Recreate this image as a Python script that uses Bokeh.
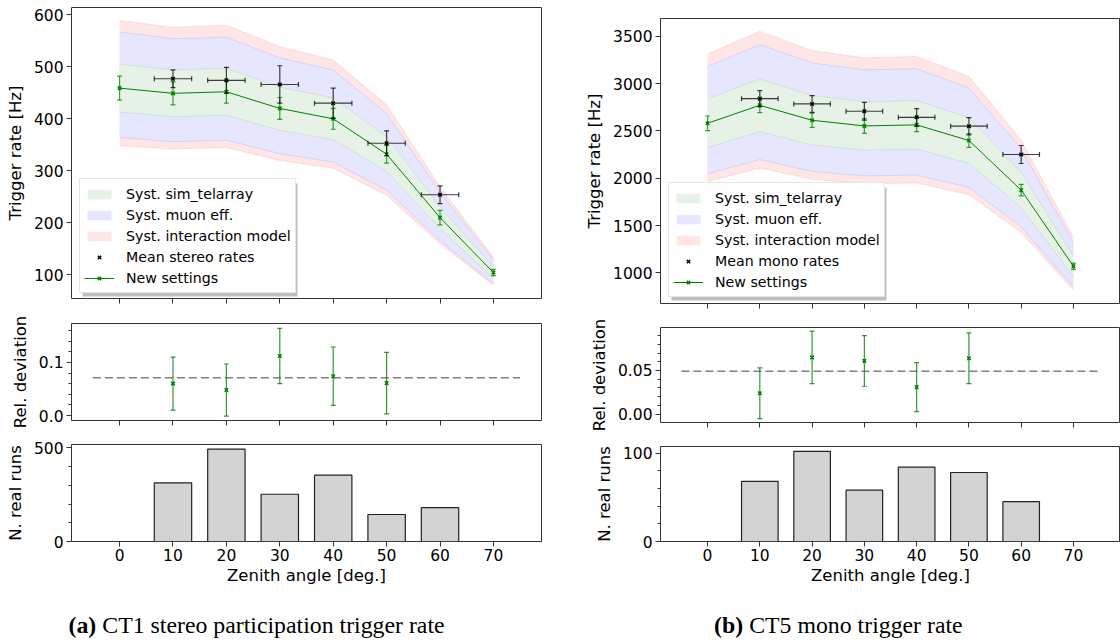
from bokeh.plotting import figure
from bokeh.models import (Range1d, FixedTicker, PrintfTickFormatter, Whisker, TeeHead,
                          ColumnDataSource, Legend, LegendItem, Label, BoxAnnotation,
                          CustomLabelingPolicy)
from bokeh.layouts import row, column
from bokeh.embed import file_html
from bokeh.resources import INLINE

# ---------------- data ----------------
zenith = [0, 10, 20, 30, 40, 50, 60, 70]
zenith_real = [10, 20, 30, 40, 50, 60]
zenith_ticks = [0, 10, 20, 30, 40, 50, 60, 70]
bin_half_width = 3.5
bin_width = 7
dev_line_x = [-5, 75]

# CT1 stereo participation
ct1_new_rate = [459, 449, 452, 420, 400, 332, 210, 104.5]
ct1_new_err = [23, 22, 22, 21, 20, 17, 14, 6]
ct1_mean_rate = [477, 474, 466, 430, 353, 254]
ct1_mean_err = [17, 25, 36, 29, 24, 17]
ct1_sim_hi = [505, 494, 497, 461, 440, 366, 231, 115]
ct1_sim_lo = [413, 404, 407, 378, 360, 299, 189, 94]
ct1_muon_hi = [567, 554, 557, 517, 494, 410, 259, 129]
ct1_muon_lo = [364, 356, 359, 333, 317, 263, 166, 83]
ct1_int_hi = [589, 576, 580, 539, 513, 427, 269, 134]
ct1_int_lo = [348, 342, 345, 320, 305, 253, 160, 80]
ct1_rel_dev = [0.060, 0.048, 0.112, 0.074, 0.061]
ct1_rel_err = [0.050, 0.049, 0.052, 0.055, 0.058]
ct1_rel_mean = 0.071
ct1_runs = [313, 493, 252, 354, 144, 181]
ct1_rate_ticks = [100, 200, 300, 400, 500, 600]
ct1_dev_ticks = [0.0, 0.1]
ct1_dev_minor = [0.02, 0.04, 0.06, 0.08, 0.12, 0.14, 0.16]
ct1_run_ticks = [0, 500]
ct1_run_minor = [100, 200, 300, 400]

# CT5 mono
ct5_new_rate = [2580, 2770, 2612, 2552, 2563, 2398, 1874, 1070]
ct5_new_err = [77, 77, 75, 78, 72, 72, 60, 33]
ct5_mean_rate = [2840, 2784, 2707, 2643, 2549, 2250]
ct5_mean_err = [84, 88, 94, 92, 91, 95]
ct5_sim_hi = [2838, 3047, 2873, 2807, 2819, 2638, 2061, 1177]
ct5_sim_lo = [2322, 2493, 2351, 2297, 2307, 2158, 1687, 963]
ct5_muon_hi = [3180, 3412, 3218, 3145, 3157, 2954, 2309, 1318]
ct5_muon_lo = [2046, 2197, 2071, 2024, 2033, 1902, 1486, 849]
ct5_int_hi = [3312, 3551, 3348, 3272, 3286, 3074, 2403, 1372]
ct5_int_lo = [1963, 2108, 1988, 1942, 1950, 1825, 1426, 814]
ct5_rel_dev = [0.024, 0.065, 0.061, 0.031, 0.064]
ct5_rel_err = [0.029, 0.030, 0.029, 0.028, 0.029]
ct5_rel_mean = 0.049
ct5_runs = [68, 102, 58, 84, 78, 45]
ct5_rate_ticks = [1000, 1500, 2000, 2500, 3000, 3500]
ct5_dev_ticks = [0.0, 0.05]
ct5_dev_minor = [0.01, 0.02, 0.03, 0.04, 0.06, 0.07, 0.08, 0.09]
ct5_run_ticks = [0, 100]
ct5_run_minor = [20, 40, 60, 80]

caption_a = ("(a)", "CT1 stereo participation trigger rate")
caption_b = ("(b)", "CT5 mono trigger rate")

# ---------------- style ----------------
FONT = "DejaVu Sans"
SERIF = "Liberation Serif"
TICK_SIZE = "15.5px"
LABEL_SIZE = "16.5px"
LEGEND_SIZE = "14.2px"
CAPTION_SIZE = "23.8px"
FRAME = "#333333"
XR = (-9, 79)

NO_LABELS = CustomLabelingPolicy(code="""
try { return new indices.constructor(indices.size, 0) } catch (e) { return indices }
""")


def make_fig(w, h, borders, yr):
    l, r, t, b = borders
    p = figure(width=w, height=h, x_range=Range1d(*XR), y_range=Range1d(*yr),
               output_backend="svg", toolbar_location=None,
               min_border_left=l, min_border_right=r,
               min_border_top=t, min_border_bottom=b)
    p.grid.visible = False
    p.outline_line_color = FRAME
    p.outline_line_width = 1
    p.outline_line_alpha = 1
    p.background_fill_color = "white"
    p.border_fill_color = "white"
    for ax in (p.xaxis[0], p.yaxis[0]):
        ax.axis_line_color = None
        ax.major_tick_out = 5
        ax.major_tick_in = 0
        ax.minor_tick_out = 3
        ax.minor_tick_in = 0
        ax.major_tick_line_color = FRAME
        ax.minor_tick_line_color = FRAME
        ax.major_label_text_font = FONT
        ax.major_label_text_font_size = TICK_SIZE
        ax.major_label_text_color = "black"
        ax.major_label_standoff = 3
        ax.axis_label_text_font = FONT
        ax.axis_label_text_font_size = LABEL_SIZE
        ax.axis_label_text_font_style = "normal"
        ax.axis_label_text_color = "black"
        ax.axis_label_standoff = 6
    p.xaxis.ticker = FixedTicker(ticks=zenith_ticks, minor_ticks=[])
    return p


def hide_x_labels(p):
    p.xaxis.major_label_text_font_size = "0px"
    p.xaxis.major_label_standoff = 0
    p.xaxis.major_label_policy = NO_LABELS


def err_whisker(xs, ys, es, color, alpha, dim="height"):
    if dim == "height":
        src = ColumnDataSource(dict(base=xs, upper=[y + e for y, e in zip(ys, es)],
                                    lower=[y - e for y, e in zip(ys, es)]))
    else:
        src = ColumnDataSource(dict(base=ys, upper=[x + e for x, e in zip(xs, es)],
                                    lower=[x - e for x, e in zip(xs, es)]))
    w = Whisker(source=src, base="base", upper="upper", lower="lower", dimension=dim,
                line_color=color, line_alpha=alpha, line_width=1.2, level="annotation",
                upper_head=TeeHead(size=5, line_color=color, line_alpha=alpha, line_width=1.2),
                lower_head=TeeHead(size=5, line_color=color, line_alpha=alpha, line_width=1.2))
    return w


def top_panel(w, h, borders, yr, ticks, new_rate, new_err, mean_rate, mean_err,
              sim_hi, sim_lo, muon_hi, muon_lo, int_hi, int_lo, mean_label, leg_loc):
    p = make_fig(w, h, borders, yr)
    p.yaxis.ticker = FixedTicker(ticks=ticks, minor_ticks=[])
    p.yaxis.axis_label = "Trigger rate [Hz]"
    hide_x_labels(p)
    r_int = p.varea(x=zenith, y1=int_lo, y2=int_hi, fill_color="#ffe6e6", fill_alpha=1)
    r_muon = p.varea(x=zenith, y1=muon_lo, y2=muon_hi, fill_color="#e6e6ff", fill_alpha=1)
    r_sim = p.varea(x=zenith, y1=sim_lo, y2=sim_hi, fill_color="#e6f2e6", fill_alpha=1)
    for arr, col in ((int_hi, "red"), (int_lo, "red"), (muon_hi, "blue"), (muon_lo, "blue"),
                     (sim_hi, "green"), (sim_lo, "green")):
        p.line(zenith, arr, line_color=col, line_alpha=0.1, line_width=1)
    r_line = p.line(zenith, new_rate, line_color="green", line_width=1)
    r_new = p.scatter(zenith, new_rate, marker="x", size=5, line_color="green", line_width=1.5)
    r_mean = p.scatter(zenith_real, mean_rate, marker="x", size=5, line_color="black", line_width=1.5)
    p.add_layout(err_whisker(zenith, new_rate, new_err, "green", 0.75))
    p.add_layout(err_whisker(zenith_real, mean_rate, mean_err, "black", 0.75))
    p.add_layout(err_whisker(zenith_real, mean_rate, [bin_half_width] * len(zenith_real),
                             "black", 0.75, dim="width"))
    lw, lh = 215, 113
    shadow = BoxAnnotation(left=leg_loc[0] + 3, right=leg_loc[0] + lw + 3,
                           bottom=leg_loc[1] - 3, top=leg_loc[1] + lh - 3,
                           left_units="screen", right_units="screen",
                           top_units="screen", bottom_units="screen",
                           fill_color="#888888", fill_alpha=0.55, line_color=None)
    p.add_layout(shadow)
    legend = Legend(items=[
        LegendItem(label="Syst. sim_telarray", renderers=[r_sim]),
        LegendItem(label="Syst. muon eff.", renderers=[r_muon]),
        LegendItem(label="Syst. interaction model", renderers=[r_int]),
        LegendItem(label=mean_label, renderers=[r_mean]),
        LegendItem(label="New settings", renderers=[r_line, r_new]),
    ], location=leg_loc)
    legend.label_text_font = FONT
    legend.label_text_font_size = LEGEND_SIZE
    legend.label_text_color = "black"
    legend.glyph_width = 30
    legend.glyph_height = 12
    legend.label_height = 21
    legend.spacing = 0
    legend.padding = 4
    legend.margin = 0
    legend.label_standoff = 12
    legend.border_line_color = "#cccccc"
    legend.border_line_width = 1
    legend.background_fill_color = "white"
    legend.background_fill_alpha = 1
    p.add_layout(legend)
    return p


def dev_panel(w, h, borders, yr, ticks, minor, fmt, dev, err, mean):
    p = make_fig(w, h, borders, yr)
    p.yaxis.ticker = FixedTicker(ticks=ticks, minor_ticks=minor)
    p.yaxis.formatter = PrintfTickFormatter(format=fmt)
    p.yaxis.axis_label = "Rel. deviation"
    hide_x_labels(p)
    p.line(dev_line_x, [mean, mean], line_color="#808080", line_width=1.5, line_dash="8 4")
    p.scatter(zenith_real[:len(dev)], dev, marker="x", size=5, line_color="green", line_width=1.5)
    p.add_layout(err_whisker(zenith_real[:len(dev)], dev, err, "green", 0.8))
    return p


def run_panel(w, h, borders, yr, ticks, minor, runs):
    p = make_fig(w, h, borders, yr)
    p.yaxis.ticker = FixedTicker(ticks=ticks, minor_ticks=minor)
    p.yaxis.axis_label = "N. real runs"
    p.xaxis.axis_label = "Zenith angle [deg.]"
    p.xaxis.axis_label_standoff = 2
    p.xaxis.major_label_standoff = 2
    p.vbar(x=zenith_real, top=runs, bottom=0, width=bin_width, fill_color="#d3d3d3",
           line_color="#222222", line_width=1.2)
    return p


# ---------------- left column (CT1) ----------------
L_W = 560
p1 = top_panel(L_W, 310, (71, 19, 7, 12), (54.6, 614), ct1_rate_ticks,
               ct1_new_rate, ct1_new_err, ct1_mean_rate, ct1_mean_err,
               ct1_sim_hi, ct1_sim_lo, ct1_muon_hi, ct1_muon_lo, ct1_int_hi, ct1_int_lo,
               "Mean stereo rates", (8, 5))
p2 = dev_panel(L_W, 122, (71, 19, 13, 12), (-0.0094, 0.1732), ct1_dev_ticks, ct1_dev_minor,
               "%.1f", ct1_rel_dev, ct1_rel_err, ct1_rel_mean)
p3 = run_panel(L_W, 156, (71, 19, 12, 47), (0, 517.6), ct1_run_ticks, ct1_run_minor, ct1_runs)

# ---------------- right column (CT5) ----------------
R_W = 560
q1 = top_panel(R_W, 315, (100, 0, 18, 12), (676, 3687), ct5_rate_ticks,
               ct5_new_rate, ct5_new_err, ct5_mean_rate, ct5_mean_err,
               ct5_sim_hi, ct5_sim_lo, ct5_muon_hi, ct5_muon_lo, ct5_int_hi, ct5_int_lo,
               "Mean mono rates", (8, 6))
q2 = dev_panel(R_W, 119, (100, 0, 12, 12), (-0.0095, 0.0992), ct5_dev_ticks, ct5_dev_minor,
               "%.2f", ct5_rel_dev, ct5_rel_err, ct5_rel_mean)
q3 = run_panel(R_W, 154, (100, 0, 12, 47), (0, 107.4), ct5_run_ticks, ct5_run_minor, ct5_runs)

# ---------------- captions (one full-width strip) ----------------
CAP_W, CAP_H = 1120, 55
cap = figure(width=CAP_W, height=CAP_H, x_range=Range1d(0, CAP_W), y_range=Range1d(0, CAP_H),
             x_axis_type=None, y_axis_type=None, output_backend="svg",
             toolbar_location=None, min_border_left=0, min_border_right=0,
             min_border_top=0, min_border_bottom=0)
cap.grid.visible = False
cap.outline_line_color = None
cap.background_fill_color = "white"
cap.border_fill_color = "white"
for (bold, rest), xb, xr in ((caption_a, 68, 101.8), (caption_b, 713.6, 748.7)):
    cap.add_layout(Label(x=xb, y=19, x_units="screen", y_units="screen", text=bold,
                         text_font=SERIF, text_font_size=CAPTION_SIZE, text_font_style="bold",
                         text_baseline="alphabetic", text_color="black"))
    cap.add_layout(Label(x=xr, y=19, x_units="screen", y_units="screen", text=rest,
                         text_font=SERIF, text_font_size=CAPTION_SIZE,
                         text_baseline="alphabetic", text_color="black"))

plots = row(column(p1, p2, p3, spacing=0), column(q1, q2, q3, spacing=0), spacing=0)
layout = column(plots, cap, spacing=0)

open("out.html", "w").write(file_html(layout, INLINE))
